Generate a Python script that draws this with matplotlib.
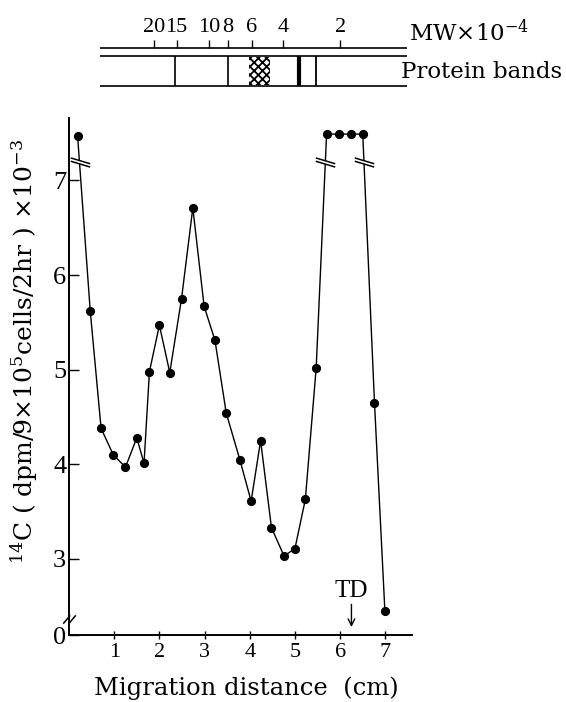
import numpy as np
import matplotlib
matplotlib.use("Agg")
import matplotlib.pyplot as plt
from matplotlib.path import Path

plt.rcParams['font.family'] = ['Liberation Serif', 'DejaVu Serif']
plt.rcParams['mathtext.fontset'] = 'custom'
plt.rcParams['mathtext.rm'] = 'DejaVu Serif'
plt.rcParams['mathtext.it'] = 'DejaVu Serif:italic'
plt.rcParams['hatch.linewidth'] = 1.3

# migration distance (cm) and 14C counts (x10^-3); off-scale points sit above the break
dist = [0.19, 0.47, 0.71, 0.98, 1.25, 1.50, 1.66, 1.78, 2.00, 2.23, 2.49, 2.74, 2.99,
        3.23, 3.48, 3.78, 4.03, 4.24, 4.48, 4.76, 5.00, 5.23, 5.47, 5.70, 5.98, 6.25,
        6.50, 6.76, 6.99]
count = [7.47, 5.62, 4.38, 4.10, 3.97, 4.28, 4.01, 4.98, 5.47, 4.97, 5.75, 6.71, 5.67,
         5.31, 4.54, 4.05, 3.61, 4.25, 3.33, 3.03, 3.11, 3.63, 5.02, 7.49, 7.49, 7.49,
         7.49, 4.65, 2.45]
# segments of the curve that cross the scale break
break_segs = [(0, 1), (22, 23), (26, 27)]
break_level = 7.19

# molecular weight markers (x10^-4) and their positions
mw_labels = ['20', '15', '10', '8', '6', '4', '2']
mw_pos = [1.89, 2.38, 3.10, 3.51, 4.04, 4.73, 6.00]
# protein band positions on the gel strip
band_pos = [2.35, 3.51, 5.09, 5.46]
band_lw = [1.2, 1.2, 3.0, 1.3]
smear = (3.99, 4.45)

td_pos = 6.25

W, H = 566, 702
fig = plt.figure(figsize=(W / 100, H / 100), dpi=100)

x0_px, x1_px = 69, 412
y0_px, y1_px = 635, 118
xmax = 7.59
ybot, ytop = 2.196, 7.66

ax = fig.add_axes([x0_px / W, 1 - y0_px / H, (x1_px - x0_px) / W, (y0_px - y1_px) / H])
ax.set_xlim(0, xmax)
ax.set_ylim(ybot, ytop)
for s in ['top', 'right']:
    ax.spines[s].set_visible(False)
for s in ['left', 'bottom']:
    ax.spines[s].set_linewidth(1.4)

ax.plot(dist, count, color='black', lw=1.0, marker='o', ms=5.6,
        mfc='black', mec='black', zorder=3)

# break marks on the curve
def pair_path(slope, gap):
    v = [(-1, slope + gap), (1, -slope + gap), (-1, slope - gap), (1, -slope - gap)]
    c = [Path.MOVETO, Path.LINETO, Path.MOVETO, Path.LINETO]
    return Path(v, c)

def fill_path(slope, gap):
    v = [(-1, slope + gap), (1, -slope + gap), (1, -slope - gap), (-1, slope - gap),
         (-1, slope + gap)]
    return Path(v, closed=True)

bx, by = [], []
for i, j in break_segs:
    xa, ya, xb, yb = dist[i], count[i], dist[j], count[j]
    t = (break_level - ya) / (yb - ya)
    bx.append(xa + t * (xb - xa))
    by.append(break_level)
ax.plot(bx, by, ls='none', marker=fill_path(0.3, 0.17), ms=14, mfc='white',
        mec='none', zorder=4)
ax.plot(bx, by, ls='none', marker=pair_path(0.3, 0.17), ms=14, mec='black',
        mew=1.1, zorder=5)

# break on the y axis
axis_break = Path([(-0.9, -0.6), (0.1, 0.6), (-0.1, -0.6), (0.9, 0.6)],
                  [Path.MOVETO, Path.LINETO, Path.MOVETO, Path.LINETO])
ax.plot([0], [2.36], ls='none', marker=axis_break, ms=9, mec='black', mew=1.1,
        clip_on=False, zorder=5)

ax.set_xticks(range(1, 8))
ax.set_xticklabels([str(i) for i in range(1, 8)], fontsize=16)
ax.set_yticks([ybot, 3, 4, 5, 6, 7])
ax.set_yticklabels(['0', '3', '4', '5', '6', '7'], fontsize=19)
ax.tick_params(axis='x', direction='inout', length=6, width=1.0, pad=3)
ax.tick_params(axis='y', direction='in', length=7, width=1.0, pad=2)

# TD marker
ax.text(td_pos, 2.66, 'TD', ha='center', va='center', fontsize=18)
ax.annotate('', xy=(td_pos, 2.28), xytext=(td_pos, 2.52),
            arrowprops=dict(arrowstyle='->', lw=1.0, color='black',
                            mutation_scale=12, shrinkA=0, shrinkB=0))

fig.text(24 / W, 1 - 352 / H,
         r'$^{14}$C ( dpm/9$\times$10$^5$cells/2hr ) $\times$10$^{-3}$',
         rotation=90, ha='center', va='center', fontsize=18, family='DejaVu Serif')
fig.text(246 / W, 1 - 688 / H, 'Migration distance  (cm)', ha='center',
         va='center', fontsize=17.5, family='DejaVu Serif')

# gel strip with MW scale on top
top = fig.add_axes([x0_px / W, 1 - 95 / H, (x1_px - x0_px) / W, 95 / H])
top.set_xlim(0, xmax)
top.set_ylim(95, 0)
top.axis('off')
sx0, sx1 = 0.69, 7.48
top.hlines([48, 56, 86], sx0, sx1, color='black', lw=1.2)
top.vlines(mw_pos, 40, 48, color='black', lw=1.0)
for lab, p in zip(mw_labels, mw_pos):
    top.text(p, 27, lab, ha='center', va='center', fontsize=16)
top.vlines(band_pos, 56, 86, color='black', lw=band_lw)
top.fill_between(smear, 57, 85, facecolor='white', edgecolor='black',
                 hatch='xxxx', lw=0)
top.text(7.52, 33, r'MW$\times$10$^{-4}$', ha='left', va='center', fontsize=16.5,
         family='DejaVu Serif', clip_on=False)
top.text(7.34, 72, 'Protein bands', ha='left', va='center', fontsize=16.5,
         family='DejaVu Serif', clip_on=False)

fig.savefig('out.png', dpi=100)
